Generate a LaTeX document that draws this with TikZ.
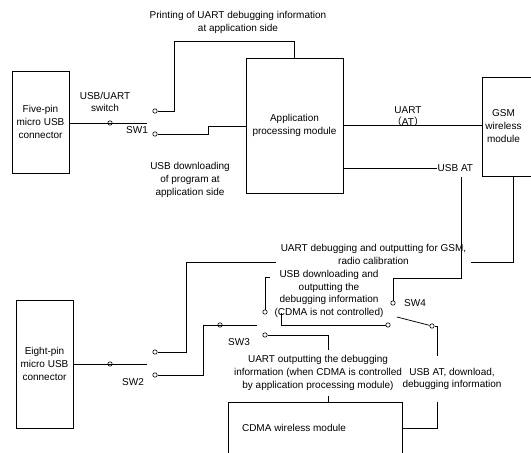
\documentclass[tikz,border=0pt]{standalone}
\usepackage{fontspec}
\setmainfont{Liberation Sans}
\newfontfamily\cjkfont{Noto Sans CJK SC}
\begin{document}
\begin{tikzpicture}[x=1pt,y=-1pt,
  every node/.style={font=\fontsize{10}{12.8}\selectfont},
  blk/.style={draw, line width=0.8pt, inner sep=0pt, align=center},
  lbl/.style={inner sep=0pt, align=center},
  pin/.style={circle, draw, line width=0.6pt, minimum size=4.4pt, inner sep=0pt},
  wire/.style={line width=0.75pt},
]
\useasboundingbox (0,0) rectangle (531,453);
\clip (0,0) rectangle (531,453);

% ---- modules ----
\node[blk, minimum width=57pt, minimum height=102pt] (five) at (40.5,122) {Five-pin\\micro USB\\connector};
\node[blk, minimum width=97pt, minimum height=135pt] (app) at (294.5,125.5) {Application\\processing module};
\node[blk, minimum width=70pt, minimum height=99pt] (gsm) at (517,126.5) {};
\node[lbl] (gsmtxt) at (503.5,126) {GSM\\wireless\\module};
\node[blk, minimum width=57pt, minimum height=128pt] (eight) at (44.5,364) {Eight-pin\\micro USB\\connector};
\node[blk, minimum width=174pt, minimum height=80pt] (cdma) at (315,442) {};
\node[lbl] (cdmatxt) at (294,428) {CDMA wireless module};

% ---- switch contacts ----
\node[pin] (p1) at (110,123) {};
\node[pin] (s1a) at (155,111) {};
\node[pin] (s1b) at (155,134) {};
\node[pin] (p2) at (110,364) {};
\node[pin] (s2a) at (155,352) {};
\node[pin] (s2b) at (155,375) {};
\node[pin] (p3) at (220,325) {};
\node[pin] (s3a) at (265,312) {};
\node[pin] (s3b) at (265,335) {};
\node[pin] (s4a) at (393,303) {};
\node[pin] (s4b) at (388,325) {};
\node[pin] (p4) at (432,326) {};

% ---- labels ----
\node[lbl] (printing) at (238,22.5) {Printing of UART debugging information\\at application side};
\node[lbl] (usbsw) at (105,102) {USB/UART\\switch};
\node[lbl] (sw1) at (137,130) {SW1};
\node[lbl] (usbdl) at (190,180) {USB downloading\\of program at\\application side};
\node[lbl] (uart) at (408,116.5) {UART\\{\cjkfont （}AT{\cjkfont ）}};
\node[lbl, anchor=west, inner xsep=0.5pt] (usbat) at (437,168) {USB AT};
\node[lbl, inner xsep=5pt] (uartdbg) at (373.5,254.5) {UART debugging and outputting for GSM,\\radio calibration};
\node[lbl] (usbdl2) at (329,294) {USB downloading and\\outputting the\\debugging information\\(CDMA is not controlled)};
\node[lbl] (sw2) at (133,382) {SW2};
\node[lbl] (sw3) at (239,342) {SW3};
\node[lbl] (sw4) at (415,303) {SW4};
\node[lbl, inner ysep=5pt] (uartout) at (318,373) {UART outputting the debugging\\information (when CDMA is controlled\\by application processing module)};
\node[lbl, inner ysep=12pt] (usbat2) at (452,379) {USB AT, download,\\debugging information};

% ---- wire bends and blade ends ----
\coordinate (b1) at (147,123);
\coordinate (b2) at (147,364);
\coordinate (b3) at (257,325);
\coordinate (b4) at (397,317);
\coordinate (k1) at (174,41);
\coordinate (k2) at (208,126);
\coordinate (k5top) at (461,177);
\coordinate (k5) at (461,278);
\coordinate (k6) at (513,262);
\coordinate (k7) at (186,262);
\coordinate (k8) at (203,325);
\coordinate (k9) at (265,277);
\coordinate (k9e) at (270,277);
\coordinate (k10) at (281,313);
\coordinate (k11) at (328,335);
\coordinate (k12) at (437,326);
\coordinate (k13) at (437,428);

% ---- wires ----
\draw[wire] (five.east |- b1) -- (b1);
\draw[wire] (s1a.east) -| (k1) -| (app.north);
\draw[wire] (s1b.east) -| (k2) -- (app.west |- k2);
\draw[wire] (app.east) -- (gsm.west |- app.east);
\draw[wire] (app.east |- usbat) -- (usbat.west);
\draw[wire] (k5top) -- (k5) -| (s4a.north);
\draw[wire] (gsm.south -| k6) -- (k6) -- (uartdbg.east |- k6);
\draw[wire] (uartdbg.west |- k7) -- (k7) |- (s2a.east);
\draw[wire] (eight.east |- b2) -- (b2);
\draw[wire] (s2b.east) -| (k8) -- (b3);
\draw[wire] (s3a.north) -- (k9) -- (k9e);
\draw[wire] (k10) |- (s4b.west);
\draw[wire] (s3b.east) -- (k11) -- (k11 |- uartout.north);
\draw[wire] (k11 |- uartout.south) -- (k11 |- cdma.north);
\draw[wire] (b4) -- (p4);
\draw[wire] (p4.east) -- (k12) -- (k12 |- usbat2.north);
\draw[wire] (k12 |- usbat2.south) -- (k13) -- (cdma.east |- k13);
\end{tikzpicture}
\end{document}
